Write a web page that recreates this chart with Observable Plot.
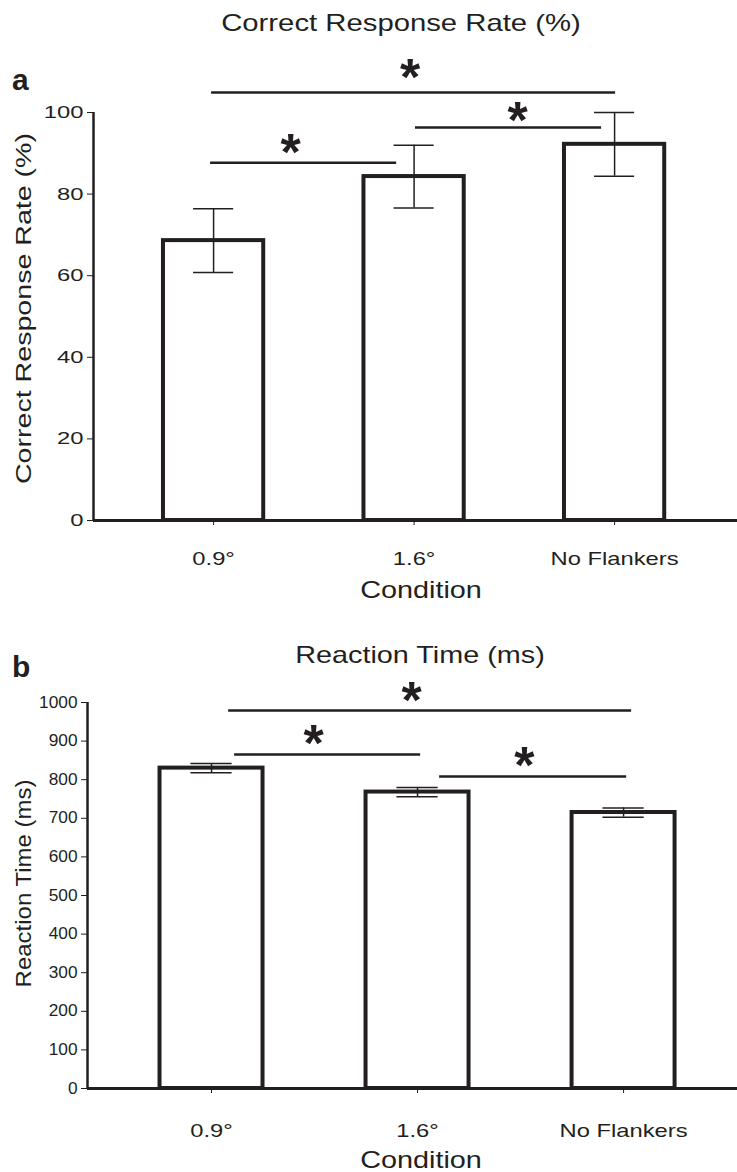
<!DOCTYPE html>
<html><head><meta charset="utf-8">
<script src="https://cdn.jsdelivr.net/npm/d3@7"></script>
<script src="https://cdn.jsdelivr.net/npm/@observablehq/plot@0.6"></script>
<style>
body{margin:0;background:#fff;font-family:"Liberation Sans",Arial,sans-serif;color:#231f20}
#wrap{position:relative;width:737px;height:1172px;overflow:hidden;background:#fff}
.abs{position:absolute;white-space:nowrap;line-height:1}
svg{position:absolute;left:0}
</style></head><body><div id="wrap"></div>
<script>
// ---- data ----
const conditions = ["0.9°", "1.6°", "No Flankers"];
const accuracy = [68.6, 84.3, 92.2];
const accuracyErr = [7.8, 7.7, 7.8];
const accTicks = [0, 20, 40, 60, 80, 100];
const accSigFrom = [-0.01, 1.007, -0.015];
const accSigTo = [2.005, 1.935, 0.913];
const accSigY = [104.9, 96.3, 87.7];
const accStarX = [0.98, 1.516, 0.384];
const accStarY = [110.3, 99.8, 91.9];

const reaction = [830, 768, 715];
const reactionErr = [12, 12, 12];
const rtTicks = [0, 100, 200, 300, 400, 500, 600, 700, 800, 900, 1000];
const rtSigFrom = [0.083, 0.112, 1.107];
const rtSigTo = [2.039, 1.015, 2.015];
const rtSigY = [979, 865, 808];
const rtStarX = [0.971, 0.495, 1.519];
const rtStarY = [1023, 912, 856];

const ink = "#231f20";
const wrap = document.getElementById("wrap");

// widen glyphs horizontally (along the text direction) around each text's anchor
function widen(nodes, f) {
  nodes.each(function() {
    const t = this.getAttribute("transform");
    if (t) {
      this.setAttribute("transform", t + " scale(" + f + ",1)");
    } else {
      const x = +this.getAttribute("x") || 0, y = +this.getAttribute("y") || 0;
      this.setAttribute("transform", "translate(" + x + "," + y + ") scale(" + f + ",1) translate(" + (-x) + "," + (-y) + ")");
    }
  });
}

function panel(o) {
  const idx = d3.range(conditions.length);
  const sig = d3.range(o.sigFrom.length);
  const p = Plot.plot({
    width: 737, height: o.height,
    marginTop: o.marginTop, marginBottom: o.marginBottom,
    marginLeft: o.marginLeft, marginRight: 0,
    style: {background: "transparent", overflow: "visible", fontFamily: "Liberation Sans, Arial, sans-serif", color: ink},
    x: {type: "linear", domain: o.xDomain},
    y: {domain: o.yDomain},
    marks: [
      Plot.axisY({ticks: o.yTicks, tickFormat: d => String(d), tickSize: 6, tickPadding: 4, fontSize: o.tickFont, label: null, stroke: ink, fill: ink}),
      Plot.axisX({ticks: [0, 1, 2], tickFormat: i => conditions[i], tickSize: 5, tickPadding: o.xPad, fontSize: 19, label: null, stroke: ink, fill: ink}),
      Plot.rect(idx, {x1: i => i - 0.25, x2: i => i + 0.25, y1: 0, y2: i => o.values[i], fill: "white", stroke: ink, strokeWidth: 4}),
      Plot.ruleX(idx, {x: i => i, y1: i => o.values[i] - o.errs[i], y2: i => o.values[i] + o.errs[i], stroke: ink, strokeWidth: 1.5}),
      Plot.ruleY(idx, {y: i => o.values[i] + o.errs[i], x1: i => i - 0.1, x2: i => i + 0.1, stroke: ink, strokeWidth: 1.5}),
      Plot.ruleY(idx, {y: i => o.values[i] - o.errs[i], x1: i => i - 0.1, x2: i => i + 0.1, stroke: ink, strokeWidth: 1.5}),
      Plot.ruleY([0], {stroke: ink, strokeWidth: 3}),
      Plot.ruleX([o.xDomain[0]], {y1: 0, y2: o.yDomain[1], stroke: ink, strokeWidth: 2.5}),
      Plot.ruleY(sig, {y: i => o.sigY[i], x1: i => o.sigFrom[i], x2: i => o.sigTo[i], stroke: ink, strokeWidth: 2.5}),
      Plot.text(sig, {x: i => o.starX[i], y: i => o.starY[i], text: () => "*", fontSize: 52, fontWeight: "bold", dy: 8, fill: ink}),
      Plot.text([o.ylabel], {frameAnchor: "left", textAnchor: "middle", rotate: -90, dx: o.ylabelDx, dy: o.ylabelDy, fontSize: 22, fill: ink})
    ]
  });
  p.style.top = o.top + "px";
  wrap.appendChild(p);
  const s = d3.select(p);
  widen(s.selectAll('g[aria-label="y-axis tick label"] text'), o.yTickStretch);
  widen(s.selectAll('g[aria-label="x-axis tick label"] text'), 1.25);
  const texts = s.selectAll('g[aria-label="text"]').nodes();
  widen(d3.select(texts[texts.length - 1]).selectAll("text"), o.ylabelStretch);
}

panel({top: 0, height: 620, marginTop: 112, marginBottom: 100, marginLeft: 93,
  xDomain: [-0.599, 2.613], yDomain: [0, 100], yTicks: accTicks, tickFont: 17, yTickStretch: 1.4, xPad: 26,
  values: accuracy, errs: accuracyErr, sigFrom: accSigFrom, sigTo: accSigTo, sigY: accSigY,
  starX: accStarX, starY: accStarY, ylabel: "Correct Response Rate (%)", ylabelDx: -70, ylabelDy: -8, ylabelStretch: 1.3});

panel({top: 620, height: 552, marginTop: 82, marginBottom: 84, marginLeft: 87,
  xDomain: [-0.602, 2.553], yDomain: [0, 1000], yTicks: rtTicks, tickFont: 16, yTickStretch: 1.08, xPad: 30,
  values: reaction, errs: reactionErr, sigFrom: rtSigFrom, sigTo: rtSigTo, sigY: rtSigY,
  starX: rtStarX, starY: rtStarY, ylabel: "Reaction Time (ms)", ylabelDx: -64, ylabelDy: -12, ylabelStretch: 1.09});

function label(text, x, y, size, f, bold, left) {
  const d = document.createElement("div");
  d.className = "abs";
  d.textContent = text;
  d.style.left = x + "px"; d.style.top = y + "px"; d.style.fontSize = size + "px";
  if (bold) d.style.fontWeight = "bold";
  d.style.transform = (left ? "translate(0,-50%)" : "translate(-50%,-50%)") + " scaleX(" + f + ")";
  if (left) d.style.transformOrigin = "left center";
  wrap.appendChild(d);
}
label("Correct Response Rate (%)", 401, 23, 24, 1.22);
label("a", 12, 80, 30, 1, true, true);
label("Condition", 421, 590, 24, 1.2);
label("b", 12, 667, 30, 1, true, true);
label("Reaction Time (ms)", 420, 655, 24, 1.2);
label("Condition", 421, 1160, 24, 1.2);
</script></body></html>
